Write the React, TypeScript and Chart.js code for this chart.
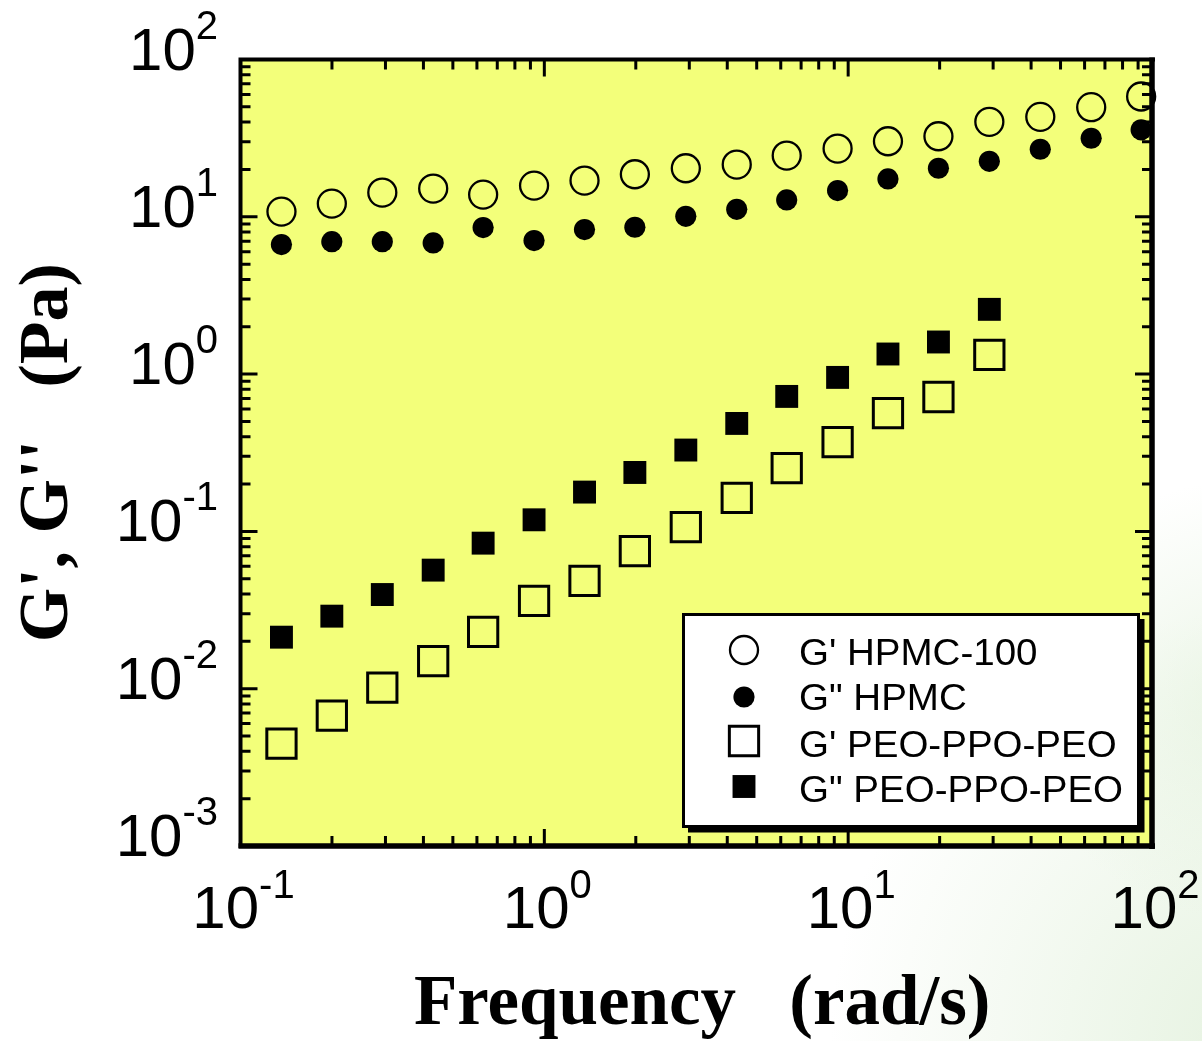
import React, { useEffect, useRef } from 'react';
import { Chart, registerables } from 'chart.js';

Chart.register(...registerables);

// ---------- data ----------
const frequency = [0.1364, 0.1998, 0.2929, 0.4307, 0.6289, 0.9251, 1.356, 1.986, 2.922, 4.298, 6.277, 9.23, 13.52, 19.82, 29.15, 42.89, 63.08, 92.1];
const gPrimeHPMC = [10.79, 12.13, 14.26, 15.12, 13.84, 15.79, 17.0, 18.64, 20.35, 21.48, 24.51, 27.15, 30.22, 32.52, 40.16, 43.2, 49.74, 58.17];
const gDoublePrimeHPMC = [6.66, 6.95, 6.95, 6.82, 8.54, 7.06, 8.29, 8.58, 10.07, 11.16, 12.81, 14.68, 17.42, 20.35, 22.54, 26.88, 31.57, 35.7];
const gPrimePEO = [0.004475, 0.006745, 0.01016, 0.01496, 0.02298, 0.03618, 0.04851, 0.07491, 0.1065, 0.1636, 0.2528, 0.3699, 0.5655, 0.7151, 1.323];
const gDoublePrimePEO = [0.02126, 0.02892, 0.03969, 0.05673, 0.0842, 0.1185, 0.1778, 0.2369, 0.329, 0.4857, 0.7213, 0.9528, 1.342, 1.6, 2.58];

const seriesLabels = ["G' HPMC-100", 'G" HPMC', "G' PEO-PPO-PEO", 'G" PEO-PPO-PEO'];
const xTickExponents = [-1, 0, 1, 2];
const yTickExponents = [-3, -2, -1, 0, 1, 2];
const xTitle = 'Frequency   (rad/s)';
const yTitle = "G', G''   (Pa)";

const PLOT_FILL = 'rgb(243,255,122)';
const SANS = '"Liberation Sans", Arial, sans-serif';
const SERIF = '"Liberation Serif", "Times New Roman", serif';

const toPoints = (vals: number[]) => vals.map((v, i) => ({ x: frequency[i], y: v }));

const pageBackground = {
  id: 'pageBackground',
  beforeDraw(chart: any) {
    const { ctx, width, height } = chart;
    ctx.save();
    ctx.fillStyle = '#ffffff';
    ctx.fillRect(0, 0, width, height);
    const g1 = ctx.createRadialGradient(1260, 1040, 30, 1260, 1040, 430);
    g1.addColorStop(0, 'rgba(208,232,198,0.5)');
    g1.addColorStop(1, 'rgba(208,232,198,0)');
    ctx.fillStyle = g1;
    ctx.fillRect(0, 0, width, height);
    const g2 = ctx.createRadialGradient(1240, 700, 10, 1240, 700, 220);
    g2.addColorStop(0, 'rgba(215,236,205,0.45)');
    g2.addColorStop(1, 'rgba(215,236,205,0)');
    ctx.fillStyle = g2;
    ctx.fillRect(0, 0, width, height);
    ctx.restore();
  },
  beforeDatasetsDraw(chart: any) {
    const { ctx, chartArea: a } = chart;
    ctx.save();
    ctx.fillStyle = PLOT_FILL;
    ctx.fillRect(a.left, a.top, a.right - a.left, a.bottom - a.top);
    ctx.restore();
  },
};

const frameAndTicks = {
  id: 'frameAndTicks',
  afterDatasetsDraw(chart: any) {
    const { ctx, chartArea: a, scales } = chart;
    const xs = scales.x;
    const ys = scales.y;
    ctx.save();
    ctx.strokeStyle = '#000';
    ctx.lineCap = 'butt';
    ctx.lineWidth = 3;
    const majorLen = 17;
    const minorLen = 10;
    for (let k = -1; k <= 2; k++) {
      for (let m = 1; m <= 9; m++) {
        const v = m * Math.pow(10, k);
        if (v < xs.min * 0.999 || v > xs.max * 1.001) continue;
        const px = xs.getPixelForValue(v);
        const len = m === 1 ? majorLen : minorLen;
        ctx.beginPath();
        ctx.moveTo(px, a.bottom);
        ctx.lineTo(px, a.bottom - len);
        ctx.moveTo(px, a.top);
        ctx.lineTo(px, a.top + len);
        ctx.stroke();
      }
    }
    for (let k = -3; k <= 2; k++) {
      for (let m = 1; m <= 9; m++) {
        const v = m * Math.pow(10, k);
        if (v < ys.min * 0.999 || v > ys.max * 1.001) continue;
        const py = ys.getPixelForValue(v);
        const len = m === 1 ? majorLen : minorLen;
        ctx.beginPath();
        ctx.moveTo(a.left, py);
        ctx.lineTo(a.left + len, py);
        ctx.moveTo(a.right, py);
        ctx.lineTo(a.right - len, py);
        ctx.stroke();
      }
    }
    ctx.lineWidth = 4;
    ctx.beginPath();
    ctx.moveTo(a.left, a.top - 2);
    ctx.lineTo(a.left, a.bottom + 2);
    ctx.moveTo(a.left - 2, a.top);
    ctx.lineTo(a.right + 3, a.top);
    ctx.stroke();
    ctx.lineWidth = 5.5;
    ctx.beginPath();
    ctx.moveTo(a.right, a.top - 2);
    ctx.lineTo(a.right, a.bottom + 3);
    ctx.moveTo(a.left - 2, a.bottom);
    ctx.lineTo(a.right + 3, a.bottom);
    ctx.stroke();
    ctx.restore();
  },
  afterDraw(chart: any) {
    const { ctx, chartArea: a, scales } = chart;
    const xs = scales.x;
    const ys = scales.y;
    ctx.save();
    ctx.fillStyle = '#000';
    ctx.textBaseline = 'alphabetic';
    const mainFont = `60px ${SANS}`;
    const supFont = `40px ${SANS}`;
    for (const e of yTickExponents) {
      const py = ys.getPixelForValue(Math.pow(10, e));
      const sup = String(e);
      ctx.font = supFont;
      const ws = ctx.measureText(sup).width;
      const right = 218;
      ctx.textAlign = 'left';
      ctx.fillText(sup, right - ws, py - 21);
      ctx.font = mainFont;
      ctx.textAlign = 'right';
      ctx.fillText('10', right - ws, py + 10);
    }
    for (const e of xTickExponents) {
      const px = xs.getPixelForValue(Math.pow(10, e));
      const sup = String(e);
      ctx.font = mainFont;
      const wm = ctx.measureText('10').width;
      ctx.font = supFont;
      const ws = ctx.measureText(sup).width;
      const start = px + 3 - (wm + ws) / 2;
      ctx.textAlign = 'left';
      ctx.font = mainFont;
      ctx.fillText('10', start, 928);
      ctx.font = supFont;
      ctx.fillText(sup, start + wm, 898);
    }
    ctx.textAlign = 'center';
    ctx.font = `bold 71px ${SERIF}`;
    ctx.fillText(xTitle, (a.left + a.right) / 2 + 6, 1024);
    ctx.save();
    ctx.font = `bold 70px ${SERIF}`;
    ctx.translate(67, (a.top + a.bottom) / 2);
    ctx.rotate(-Math.PI / 2);
    ctx.fillText(yTitle, 0, 0);
    ctx.restore();

    // legend
    const bx = 683.5, by = 614.5, bw = 455, bh = 212;
    ctx.fillStyle = '#000';
    ctx.fillRect(bx + 4.5, by + 4.5, bw + 1.5, bh + 1.5);
    ctx.fillStyle = '#fff';
    ctx.fillRect(bx, by, bw, bh);
    ctx.lineWidth = 3;
    ctx.strokeStyle = '#000';
    ctx.strokeRect(bx, by, bw, bh);
    const rows = [650, 697, 741, 786.5];
    const baselines = [665, 710, 756.5, 801.5];
    const symX = 744;
    chart.data.datasets.forEach((ds: any, i: number) => {
      const cy = rows[i];
      ctx.beginPath();
      if (ds.pointStyle === 'circle') {
        ctx.arc(symX, cy, ds.pointRadius, 0, Math.PI * 2);
      } else {
        const half = ds.pointRadius * Math.SQRT1_2;
        ctx.rect(symX - half, cy - half, half * 2, half * 2);
      }
      if (ds.pointBackgroundColor !== 'rgba(0,0,0,0)') {
        ctx.fillStyle = ds.pointBackgroundColor;
        ctx.fill();
      }
      if (ds.pointBorderWidth > 0) {
        ctx.lineWidth = ds.pointBorderWidth;
        ctx.strokeStyle = ds.pointBorderColor;
        ctx.stroke();
      }
      ctx.fillStyle = '#000';
      ctx.font = `36px ${SANS}`;
      ctx.textAlign = 'left';
      ctx.save();
      ctx.translate(799, baselines[i]);
      ctx.scale(1.07, 1);
      ctx.fillText(ds.label, 0, 0);
      ctx.restore();
    });
    ctx.restore();
  },
};

export default function App() {
  const ref = useRef<HTMLCanvasElement | null>(null);
  useEffect(() => {
    document.body.style.margin = '0';
    const canvas = ref.current;
    if (!canvas) return;
    const chart = new Chart(canvas, {
      type: 'scatter',
      data: {
        datasets: [
          {
            label: seriesLabels[0],
            data: toPoints(gPrimeHPMC),
            pointStyle: 'circle',
            pointRadius: 14,
            pointBackgroundColor: 'rgba(0,0,0,0)',
            pointBorderColor: '#000',
            pointBorderWidth: 2.3,
            clip: false,
          } as any,
          {
            label: seriesLabels[1],
            data: toPoints(gDoublePrimeHPMC),
            pointStyle: 'circle',
            pointRadius: 10.6,
            pointBackgroundColor: '#000',
            pointBorderColor: '#000',
            pointBorderWidth: 0,
            clip: false,
          },
          {
            label: seriesLabels[2],
            data: toPoints(gPrimePEO),
            pointStyle: 'rect',
            pointRadius: 20.7,
            pointBackgroundColor: 'rgba(0,0,0,0)',
            pointBorderColor: '#000',
            pointBorderWidth: 3,
            clip: false,
          },
          {
            label: seriesLabels[3],
            data: toPoints(gDoublePrimePEO),
            pointStyle: 'rect',
            pointRadius: 16.2,
            pointBackgroundColor: '#000',
            pointBorderColor: '#000',
            pointBorderWidth: 0,
            clip: false,
          },
        ],
      },
      options: {
        animation: false,
        responsive: false,
        devicePixelRatio: 1,
        layout: { padding: { left: 240.5, top: 59.5, right: 50, bottom: 195 } },
        plugins: { legend: { display: false }, tooltip: { enabled: false }, title: { display: false } },
        events: [],
        scales: {
          x: { type: 'logarithmic', min: 0.1, max: 100, display: false },
          y: { type: 'logarithmic', min: 0.001, max: 100, display: false },
        },
      },
      plugins: [pageBackground, frameAndTicks],
    });
    return () => chart.destroy();
  }, []);
  return <canvas ref={ref} width={1202} height={1041} style={{ display: 'block', width: 1202, height: 1041 }} />;
}
